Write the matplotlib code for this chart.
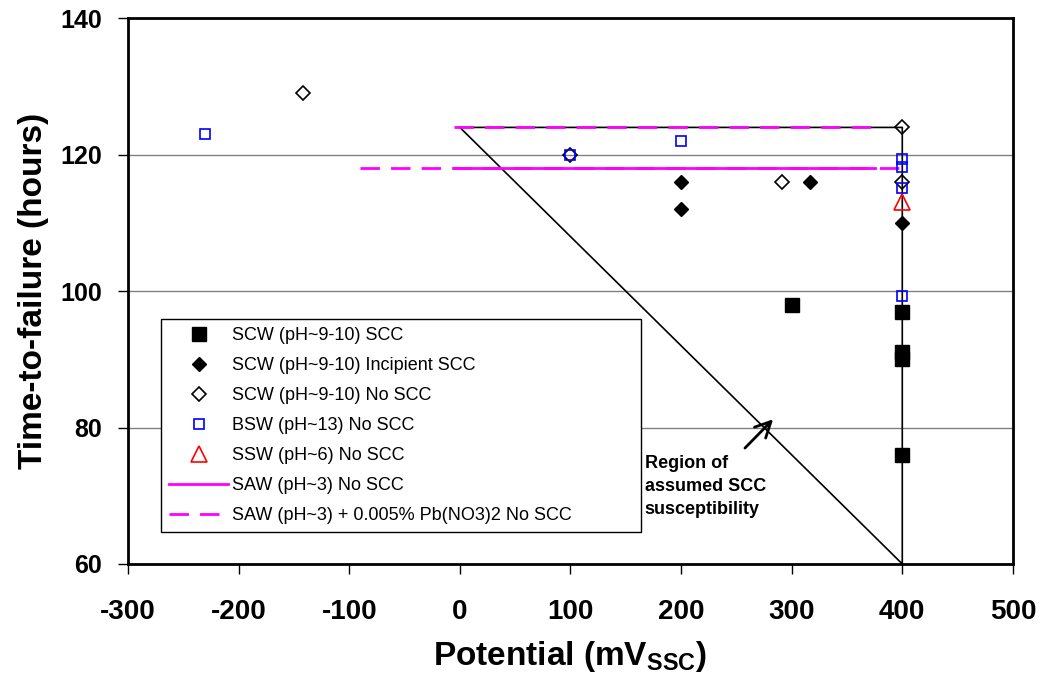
import matplotlib
matplotlib.use("Agg")
import matplotlib.pyplot as plt

plt.rcParams['font.family'] = ['Liberation Sans', 'DejaVu Sans']
plt.rcParams['mathtext.fontset'] = 'custom'
plt.rcParams['mathtext.rm'] = 'Liberation Sans:bold'
plt.rcParams['mathtext.bf'] = 'Liberation Sans:bold'
plt.rcParams['axes.unicode_minus'] = False

MAGENTA = "#FF00FF"

# SCW (pH~9-10) SCC
scc_x = [300, 400, 400, 400, 400]
scc_y = [98, 97, 91, 90, 76]

# SCW (pH~9-10) incipient SCC
inc_x = [200, 200, 317, 400]
inc_y = [116, 112, 116, 110]

# SCW (pH~9-10) no SCC
noscc_x = [-142, 100, 291, 400, 400]
noscc_y = [129, 120, 116, 124, 116]

# BSW (pH~13) no SCC
bsw_x = [-230, 100, 200, 400, 400, 400, 400]
bsw_y = [123, 120, 122, 119.4, 118.2, 115.1, 99.3]

# SSW (pH~6) no SCC
ssw_x = [400]
ssw_y = [113]

# SAW (pH~3) no SCC
saw_x = [-5, 375]
saw_y = [118, 118]

# SAW (pH~3) + Pb(NO3)2 no SCC
sawpb_x = [-5, 375]
sawpb_y = [124, 124]
sawpb2_x = [-90, 400]
sawpb2_y = [118, 118]

# assumed SCC susceptibility region
region_x = [0, 400, 400, 0]
region_y = [124, 124, 60, 124]

fig = plt.figure(figsize=(10.41, 6.77), dpi=100)
ax = fig.add_axes([0.123, 0.167, 0.850, 0.806])

ax.plot(region_x, region_y, color="black", lw=1.2, zorder=2)

ax.plot(saw_x, saw_y, color=MAGENTA, lw=2, zorder=3, label="SAW (pH~3) No SCC")
ax.plot(sawpb_x, sawpb_y, color=MAGENTA, lw=2, dashes=(7, 4), zorder=3,
        label="SAW (pH~3) + 0.005% Pb(NO3)2 No SCC")
ax.plot(sawpb2_x, sawpb2_y, color=MAGENTA, lw=2, dashes=(7, 4), zorder=3)

ax.plot(scc_x, scc_y, ls="none", marker="s", ms=9.4, mfc="black", mec="black",
        zorder=5, label="SCW (pH~9-10) SCC")
ax.plot(inc_x, inc_y, ls="none", marker="D", ms=7.6, mfc="black", mec="black",
        zorder=5, label="SCW (pH~9-10) Incipient SCC")
ax.plot(noscc_x, noscc_y, ls="none", marker="D", ms=7.2, mfc="none", mec="black",
        mew=1.2, zorder=5, label="SCW (pH~9-10) No SCC")
ax.plot(bsw_x, bsw_y, ls="none", marker="s", ms=7.5, mfc="none", mec="#0000FF",
        mew=1.2, zorder=5, label="BSW (pH~13) No SCC")
ax.plot(ssw_x, ssw_y, ls="none", marker="^", ms=12, mfc="none", mec="#FF0000",
        mew=1.2, zorder=5, label="SSW (pH~6) No SCC")

ax.annotate("", xy=(285, 81.5), xytext=(256, 76.7),
            arrowprops=dict(arrowstyle="->", lw=2, color="black", mutation_scale=28))
ax.text(167, 76, "Region of\nassumed SCC\nsusceptibility", fontsize=13,
        fontweight="bold", ha="left", va="top", linespacing=1.45)

ax.set_xlim(-300, 500)
ax.set_ylim(60, 140)
ax.set_xticks(range(-300, 501, 100))
ax.set_yticks(range(60, 141, 20))
ax.yaxis.grid(True, color="#808080", lw=1)
ax.set_axisbelow(True)

for side in ["left", "right", "top", "bottom"]:
    ax.spines[side].set_linewidth(2)
    ax.spines[side].set_color("black")

ax.tick_params(axis="x", direction="out", length=7, width=1, pad=18, labelsize=20)
ax.tick_params(axis="y", direction="out", length=7, width=1, pad=12, labelsize=18)
for lbl in ax.get_xticklabels() + ax.get_yticklabels():
    lbl.set_fontweight("bold")

ax.set_xlabel(r"Potential (mV$_{\mathbf{SSC}}$)", fontsize=24, fontweight="bold",
              labelpad=10)
ax.set_ylabel("Time-to-failure (hours)", fontsize=24, fontweight="bold", labelpad=8)

handles, labels = ax.get_legend_handles_labels()
order = [2, 3, 4, 5, 6, 0, 1]
leg = ax.legend([handles[i] for i in order], [labels[i] for i in order],
                loc="upper left", bbox_to_anchor=(0.037, 0.0586, 0.5424, 0.3904),
                mode="expand", borderaxespad=0,
                fontsize=13, frameon=True, fancybox=False, framealpha=1,
                edgecolor="black", handlelength=3.3, handletextpad=0.2,
                labelspacing=0.72, borderpad=0.45)
leg.get_frame().set_linewidth(1)

fig.savefig("out.png", dpi=100)
